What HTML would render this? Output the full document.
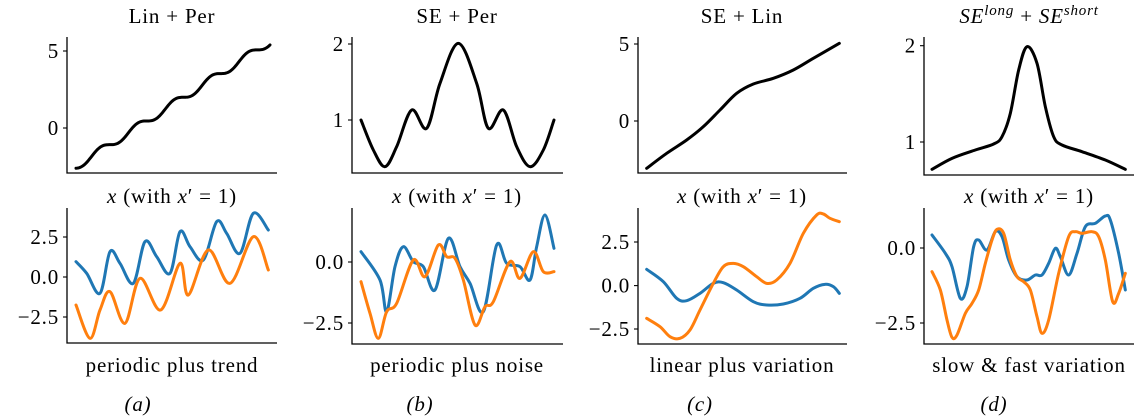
<!DOCTYPE html>
<html><head><meta charset="utf-8"><style>
html,body{margin:0;padding:0;background:#fff;}
svg{display:block;}
text{font-family:"Liberation Serif","DejaVu Serif",serif;fill:#000;}
</style></head><body>
<svg id="s" width="1142" height="418" xmlns="http://www.w3.org/2000/svg">
<g font-size="21" letter-spacing="0.8">
<text x="172" y="23" text-anchor="middle">Lin + Per</text>
<text x="457" y="23" text-anchor="middle">SE + Per</text>
<text x="742" y="23" text-anchor="middle">SE + Lin</text>
<text x="1029" y="23" text-anchor="middle"><tspan font-style="italic">SE</tspan><tspan font-style="italic" font-size="15" dy="-8">long</tspan><tspan dy="8"> + </tspan><tspan font-style="italic">SE</tspan><tspan font-style="italic" font-size="15" dy="-8">short</tspan></text>
</g>
<g font-size="21" letter-spacing="0.8" text-anchor="middle">
<text x="172" y="203"><tspan font-style="italic">x</tspan> (with <tspan font-style="italic">x</tspan>′ = 1)</text>
<text x="457" y="203"><tspan font-style="italic">x</tspan> (with <tspan font-style="italic">x</tspan>′ = 1)</text>
<text x="742" y="203"><tspan font-style="italic">x</tspan> (with <tspan font-style="italic">x</tspan>′ = 1)</text>
<text x="1029" y="203"><tspan font-style="italic">x</tspan> (with <tspan font-style="italic">x</tspan>′ = 1)</text>
<text x="172" y="372">periodic plus trend</text>
<text x="457" y="372">periodic plus noise</text>
<text x="742" y="372">linear plus variation</text>
<text x="1029" y="372">slow &amp; fast variation</text>
<text x="138" y="411" font-style="italic">(a)</text>
<text x="420" y="411" font-style="italic">(b)</text>
<text x="700" y="411" font-style="italic">(c)</text>
<text x="994" y="411" font-style="italic">(d)</text>
</g>
<g id="g"></g>
</svg>
<script>
var NS="http://www.w3.org/2000/svg",G=document.getElementById('g');
function el(t,a,txt){var e=document.createElementNS(NS,t);for(var k in a)e.setAttribute(k,a[k]);if(txt!==undefined)e.textContent=txt;G.appendChild(e);return e;}
function axes(x0,x1,y0,y1,ticks){
 el('path',{d:'M'+x0+' '+y0+'V'+y1+'H'+x1,stroke:'#000','stroke-width':1.3,fill:'none'});
 ticks.forEach(function(t){el('line',{x1:x0-4,x2:x0,y1:t[1],y2:t[1],stroke:'#000','stroke-width':1.1});
  el('text',{x:x0-8,y:t[1]+7,'text-anchor':'end','font-size':21,'letter-spacing':0.8},t[0]);});
}
function cr(p){var d='M'+p[0][0]+' '+p[0][1];for(var i=0;i<p.length-1;i++){var a=p[i-1]||p[i],b=p[i],c=p[i+1],e=p[i+2]||c;
 d+='C'+(b[0]+(c[0]-a[0])/6)+' '+(b[1]+(c[1]-a[1])/6)+' '+(c[0]-(e[0]-b[0])/6)+' '+(c[1]-(e[1]-b[1])/6)+' '+c[0]+' '+c[1];}return d;}
function line(pts,ox,col){var p=pts.map(function(q){return [ox+q[0]/3,q[1]/3];});
 el('path',{d:cr(p),stroke:col,'stroke-width':3,fill:'none','stroke-linejoin':'round','stroke-linecap':'round'});}
var K='#000',B='#1f77b4',O='#ff7f0e';
// a
axes(67,277,37,173,[['5',51],['0',128]]);
axes(67,277,208,343,[['2.5',237],['0.0',277],['\u22122.5',317]]);
(function(){var d='',p=0.19,a=0.245,ph=Math.PI-2*Math.PI*0.175/p;for(var i=0;i<=200;i++){var t=i/200,v=-2.5+8.1*t+a*Math.sin(2*Math.PI*t/p+ph);
 var x=76+194*t,y=128-15.4*v;d+=(i?'L':'M')+x.toFixed(2)+' '+y.toFixed(2);}
 el('path',{d:d,stroke:K,'stroke-width':3,fill:'none','stroke-linecap':'round'});})();
line([[228,785],[260,820],[300,880],[330,755],[360,790],[400,850],[435,725],[470,770],[510,820],[540,695],[570,740],[610,780],[650,665],[680,700],[720,760],[760,640],[805,690]],0,B);
line([[228,915],[270,1015],[300,930],[330,875],[375,970],[420,835],[482,930],[540,790],[565,885],[625,750],[690,850],[760,710],[805,810]],0,O);
// b
axes(352,563,37,173,[['2',44],['1',120]]);
axes(352,563,208,344,[['0.0',262],['\u22122.5',323]]);
line([[243,360],[280,450],[315,500],[350,440],[395,330],[440,385],[480,250],[535,130],[590,250],[625,385],[670,330],[710,440],[750,500],[790,450],[822,360]],280,K);
line([[243,755],[300,840],[320,935],[345,800],[370,740],[400,785],[430,800],[465,870],[505,715],[540,800],[570,850],[610,935],[650,735],[680,790],[720,800],[750,840],[770,740],[795,645],[822,745]],280,B);
line([[243,845],[270,940],[295,1015],[320,935],[350,910],[400,780],[435,830],[475,735],[500,770],[525,775],[550,840],[585,975],[615,920],[640,905],[690,785],[720,835],[760,755],[790,815],[822,815]],280,O);
// c
axes(638,847,37,173,[['5',44],['0',121]]);
axes(638,847,208,344,[['2.5',242],['0.0',285.6],['\u22122.5',329]]);
line([[260,505],[320,460],[380,420],[430,380],[480,330],[530,280],[580,252],[640,235],[700,210],[760,175],[838,130]],560,K);
line([[260,808],[310,845],[350,895],[380,902],[420,880],[460,850],[490,848],[530,870],[580,905],[620,915],[670,912],[720,895],[760,865],[795,853],[820,860],[838,880]],560,B);
line([[260,955],[300,980],[330,1010],[360,1015],[390,990],[420,930],[460,850],[490,800],[520,790],[550,800],[590,830],[620,850],[650,840],[690,790],[730,700],[770,645],[790,642],[810,655],[838,665]],560,O);
// d
axes(924,1134,37,175,[['2',45.7],['1',142]]);
axes(924,1134,208,344,[['0.0',248],['\u22122.5',323]]);
line([[270,508],[330,475],[400,450],[455,432],[480,410],[505,340],[530,210],[555,140],[585,190],[610,320],[635,410],[660,435],[720,455],[790,480],[850,508]],842,K);
line([[270,705],[310,760],[330,800],[355,895],[375,860],[395,740],[410,720],[435,750],[460,695],[480,710],[500,780],[525,830],[555,840],[580,825],[600,825],[620,790],[640,745],[655,770],[680,825],[705,760],[730,680],[760,670],[790,648],[805,660],[830,760],[850,870]],842,B);
line([[270,815],[295,870],[315,960],[330,1012],[345,1005],[370,940],[390,910],[410,870],[430,790],[450,720],[465,688],[485,700],[505,780],[525,830],[545,845],[565,870],[585,950],[600,1000],[620,960],[650,820],[680,710],[700,695],[720,700],[750,695],[770,710],[790,780],[812,905],[830,880],[850,820]],842,O);
</script>
</body></html>
